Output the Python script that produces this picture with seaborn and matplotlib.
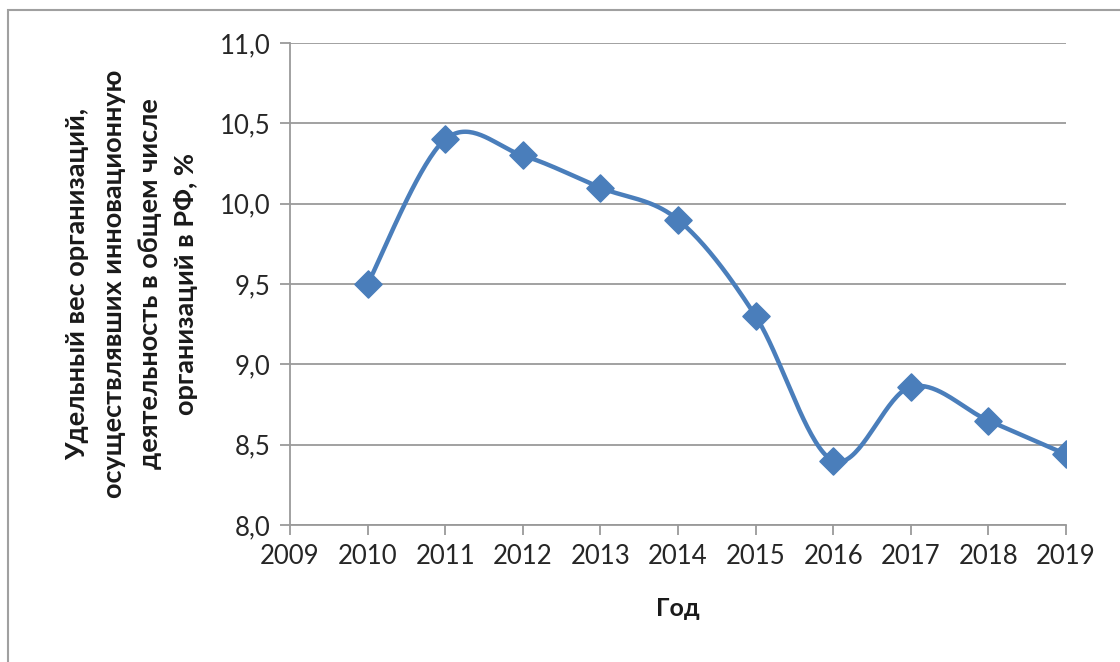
import numpy as np
import pandas as pd
import matplotlib
matplotlib.use("Agg")
import matplotlib.pyplot as plt
import seaborn as sns
from matplotlib.patches import Rectangle
from matplotlib.ticker import FuncFormatter

years = [2010, 2011, 2012, 2013, 2014, 2015, 2016, 2017, 2018, 2019]
share = [9.5, 10.4, 10.3, 10.1, 9.9, 9.3, 8.4, 8.86, 8.65, 8.44]
x_ticks = list(range(2009, 2020))
y_ticks = [8.0, 8.5, 9.0, 9.5, 10.0, 10.5, 11.0]

y_title = ("Удельный вес организаций,\n"
           "осуществлявших инновационную\n"
           "деятельность в общем числе\n"
           "организаций в РФ, %")
x_title = "Год"

blue = "#4a7ebb"
grid_gray = "#9a9a9a"


def excel_smooth(xs, ys, n=40):
    # сглаживание как в Excel: кубические Безье, контрольные точки по соседям
    xs = np.asarray(xs, float)
    ys = np.asarray(ys, float)
    px = np.concatenate([[xs[0]], xs, [xs[-1]]])
    py = np.concatenate([[ys[0]], ys, [ys[-1]]])
    out_x, out_y = [], []
    t = np.linspace(0, 1, n)
    for i in range(1, len(px) - 2):
        p0x, p1x, p2x, p3x = px[i - 1], px[i], px[i + 1], px[i + 2]
        p0y, p1y, p2y, p3y = py[i - 1], py[i], py[i + 1], py[i + 2]
        c1x, c1y = p1x + (p2x - p0x) / 6, p1y + (p2y - p0y) / 6
        c2x, c2y = p2x - (p3x - p1x) / 6, p2y - (p3y - p1y) / 6
        bx = (1 - t) ** 3 * p1x + 3 * (1 - t) ** 2 * t * c1x + 3 * (1 - t) * t ** 2 * c2x + t ** 3 * p2x
        by = (1 - t) ** 3 * p1y + 3 * (1 - t) ** 2 * t * c1y + 3 * (1 - t) * t ** 2 * c2y + t ** 3 * p2y
        out_x.extend(bx)
        out_y.extend(by)
    return np.array(out_x), np.array(out_y)


sns.set_style("white")
plt.rcParams['font.family'] = ['Lato', 'DejaVu Sans']

fig = plt.figure(figsize=(11.2, 6.62), dpi=100)
fig.patches.append(Rectangle((8 / 1120, -0.1), 1.2, 1 - 10 / 662 + 0.1,
                             transform=fig.transFigure, fill=False,
                             edgecolor="#a0a0a0", linewidth=1.5))
ax = fig.add_axes([290 / 1120, 1 - 525 / 662, (1066 - 290) / 1120, (525 - 43) / 662])

df = pd.DataFrame({"year": years, "share": share})
sx, sy = excel_smooth(years, share)
smooth = pd.DataFrame({"year": sx, "share": sy})

sns.lineplot(data=smooth, x="year", y="share", sort=False, estimator=None,
             color=blue, linewidth=3.2, ax=ax, zorder=3)
sns.scatterplot(data=df, x="year", y="share", marker="D", s=190,
                color=blue, edgecolor=blue, ax=ax, zorder=4)

ax.set_xlim(2009, 2019)
ax.set_ylim(8.0, 11.0)
ax.set_xticks(x_ticks)
ax.set_yticks(y_ticks)
ax.yaxis.set_major_formatter(FuncFormatter(lambda v, p: f"{v:.1f}".replace(".", ",")))
ax.grid(axis="y", color=grid_gray, linewidth=1.3)
ax.grid(axis="x", visible=False)
for side in ["top", "right"]:
    ax.spines[side].set_visible(False)
for side in ["left", "bottom"]:
    ax.spines[side].set_color(grid_gray)
    ax.spines[side].set_linewidth(1.3)
ax.tick_params(axis="both", direction="out", length=7, width=1.3, color=grid_gray,
               labelsize=18.5, labelcolor="#262626", pad=7, left=True, bottom=True)

ax.set_xlabel(x_title, fontsize=18, fontweight="bold", labelpad=20, color="#1a1a1a")
ax.set_ylabel(y_title, fontsize=19.5, fontweight="bold", labelpad=16, color="#1a1a1a",
              linespacing=1.6)

fig.savefig("out.png", dpi=100)
